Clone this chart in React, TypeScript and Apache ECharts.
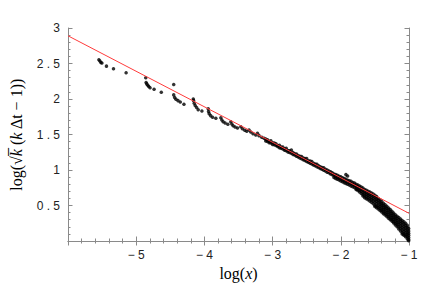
import React, { useEffect, useRef } from "react";
import * as echarts from "echarts";

// Red reference line endpoints (log x, log y)
const fitX = [-6, -1];
const fitY = [2.89, 0.39];

// Sparse early points (log x, log y)
const sparsePoints: [number, number][] = [
  [-5.547, 2.552], [-5.532, 2.534], [-5.518, 2.514], [-5.503, 2.506], [-5.436, 2.463], [-5.333, 2.425], [-5.148, 2.369],
  [-4.86, 2.298], [-4.855, 2.232], [-4.845, 2.213], [-4.83, 2.195], [-4.816, 2.175], [-4.797, 2.157], [-4.738, 2.138], [-4.632, 2.096],
  [-4.45, 2.203], [-4.45, 2.058], [-4.436, 2.02], [-4.417, 1.997], [-4.387, 1.977], [-4.354, 1.959], [-4.3, 1.927],
  [-4.163, 2.001], [-4.158, 1.977], [-4.149, 1.941], [-4.135, 1.907], [-4.114, 1.879], [-4.091, 1.85], [-4.037, 1.832],
  [-3.944, 1.861], [-3.939, 1.823], [-3.93, 1.794], [-3.909, 1.766], [-3.88, 1.743], [-3.832, 1.729],
  [-3.759, 1.737], [-3.744, 1.705], [-3.725, 1.681], [-3.696, 1.662], [-3.656, 1.644],
  [-3.613, 1.681], [-3.598, 1.648], [-3.579, 1.624], [-3.55, 1.606], [-3.515, 1.592],
  [-3.466, 1.61], [-3.442, 1.582], [-3.408, 1.559], [-3.379, 1.545],
  [-3.345, 1.563], [-3.32, 1.535], [-3.287, 1.511], [-3.247, 1.493],
  [-3.222, 1.517], [-3.199, 1.484], [-3.159, 1.46], [-3.126, 1.446],
];

// Dense band, middle part: [log x, log y values at that x]
const bandMid: [number, number[]][] = [
  [-3.1, [1.435, 1.41]], [-3.075, [1.425, 1.4]], [-3.05, [1.405, 1.385]], [-3.025, [1.41, 1.38]],
  [-3.0, [1.385, 1.36]], [-2.975, [1.38, 1.355]], [-2.95, [1.37, 1.345]], [-2.925, [1.345, 1.33]],
  [-2.9, [1.35, 1.315]], [-2.875, [1.325, 1.305]], [-2.85, [1.325, 1.295]], [-2.825, [1.3, 1.28]],
  [-2.8, [1.305, 1.27]], [-2.775, [1.275, 1.255]], [-2.75, [1.27, 1.245]], [-2.725, [1.28, 1.235]],
  [-2.7, [1.245, 1.22]], [-2.675, [1.23, 1.21]], [-2.65, [1.225, 1.195]], [-2.625, [1.205, 1.185]],
  [-2.6, [1.195, 1.17]], [-2.575, [1.19, 1.16]], [-2.55, [1.17, 1.145]], [-2.525, [1.16, 1.135]],
  [-2.5, [1.16, 1.12]], [-2.475, [1.13, 1.11]], [-2.45, [1.125, 1.095]], [-2.425, [1.12, 1.085]],
  [-2.4, [1.095, 1.07]], [-2.375, [1.085, 1.06]], [-2.35, [1.08, 1.045]], [-2.325, [1.06, 1.035]],
  [-2.3, [1.045, 1.02]], [-2.275, [1.035, 1.01]], [-2.25, [1.03, 0.995]], [-2.225, [1.01, 0.985]],
  [-2.2, [1.0, 0.97]], [-2.175, [0.985, 0.96]], [-2.15, [0.975, 0.945]], [-2.125, [0.96, 0.935]],
];

// Dense band, right part (widening and bending below the line)
const bandRight: [number, number[]][] = [
  [-2.1, [0.945, 0.92, 0.895]], [-2.075, [0.935, 0.905, 0.88]], [-2.05, [0.925, 0.895, 0.87]],
  [-2.025, [0.91, 0.885, 0.86]], [-2.0, [0.905, 0.875, 0.845]], [-1.975, [0.89, 0.86, 0.835]],
  [-1.95, [0.88, 0.85, 0.82]], [-1.925, [0.935, 0.87, 0.84, 0.81]], [-1.9, [0.915, 0.855, 0.83, 0.8]],
  [-1.875, [0.85, 0.82, 0.79]], [-1.85, [0.84, 0.81, 0.775]], [-1.825, [0.825, 0.795, 0.765]],
  [-1.8, [0.815, 0.785, 0.755]], [-1.775, [0.8, 0.77, 0.74, 0.725]], [-1.75, [0.79, 0.76, 0.73, 0.71]],
  [-1.725, [0.775, 0.745, 0.715, 0.69]], [-1.7, [0.76, 0.73, 0.7, 0.67]],
  [-1.675, [0.745, 0.715, 0.685, 0.655, 0.635]], [-1.65, [0.725, 0.695, 0.665, 0.635, 0.61]],
  [-1.625, [0.715, 0.685, 0.655, 0.625, 0.595]], [-1.6, [0.7, 0.67, 0.64, 0.61, 0.58]],
  [-1.575, [0.69, 0.66, 0.63, 0.6, 0.565]], [-1.55, [0.675, 0.645, 0.61, 0.58, 0.545]],
  [-1.525, [0.66, 0.63, 0.6, 0.565, 0.525]], [-1.5, [0.645, 0.615, 0.58, 0.545, 0.505, 0.485]],
  [-1.475, [0.625, 0.59, 0.56, 0.525, 0.49, 0.47]], [-1.45, [0.6, 0.57, 0.54, 0.505, 0.475, 0.45]],
  [-1.425, [0.58, 0.55, 0.52, 0.49, 0.455, 0.43]], [-1.4, [0.555, 0.525, 0.495, 0.465, 0.435, 0.41]],
  [-1.375, [0.53, 0.5, 0.47, 0.44, 0.41, 0.385]], [-1.35, [0.51, 0.48, 0.45, 0.42, 0.39, 0.365]],
  [-1.325, [0.49, 0.46, 0.43, 0.4, 0.37, 0.345]], [-1.3, [0.465, 0.435, 0.405, 0.375, 0.345, 0.32]],
  [-1.275, [0.445, 0.415, 0.385, 0.355, 0.325, 0.3]], [-1.25, [0.42, 0.39, 0.36, 0.33, 0.3, 0.28]],
  [-1.225, [0.395, 0.365, 0.335, 0.305, 0.275, 0.255]], [-1.2, [0.37, 0.34, 0.31, 0.28, 0.25, 0.225]],
  [-1.175, [0.35, 0.32, 0.29, 0.26, 0.23, 0.2]], [-1.15, [0.33, 0.3, 0.265, 0.235, 0.2, 0.17]],
  [-1.125, [0.31, 0.28, 0.245, 0.21, 0.175, 0.14]], [-1.1, [0.29, 0.26, 0.225, 0.19, 0.155, 0.12, 0.1]],
  [-1.075, [0.27, 0.24, 0.205, 0.17, 0.135, 0.1, 0.08]], [-1.05, [0.25, 0.22, 0.185, 0.15, 0.115, 0.085, 0.06]],
  [-1.025, [0.22, 0.19, 0.155, 0.12, 0.09, 0.06, 0.03]], [-1.005, [0.175, 0.14, 0.11, 0.08, 0.05, 0.02, 0.005]],
];

const xTickValues = [-5, -4, -3, -2, -1];
const yTickValues = [0.5, 1, 1.5, 2, 2.5, 3];

const flatten = (rows: [number, number[]][]) => {
  const out: [number, number][] = [];
  rows.forEach(([x, ys]) => ys.forEach((y) => out.push([x, y])));
  return out;
};

const frameColor = "#8a8a8a";
const labelFont = "Liberation Sans, Arial, sans-serif";
const titleFont = "Liberation Serif, Times New Roman, serif";

export default function App() {
  const ref = useRef<HTMLDivElement>(null);
  useEffect(() => {
    if (!ref.current) return;
    const chart = echarts.init(ref.current, undefined, { renderer: "svg" });
    const tickCommon = {
      axisLine: { show: true, lineStyle: { color: frameColor, width: 1 } },
      axisTick: { show: true, inside: true, length: 4.5, lineStyle: { color: frameColor } },
      minorTick: { show: true, splitNumber: 5, length: 2.5, lineStyle: { color: frameColor } },
      splitLine: { show: false },
    };
    const xLabel = (v: number) =>
      xTickValues.includes(v) ? (v < 0 ? "\u2212 " + Math.abs(v) : String(v)) : "";
    const yLabel = (v: number) =>
      yTickValues.includes(v) ? String(v).replace(".", " . ") : "";
    const allPoints = [...sparsePoints, ...flatten(bandMid), ...flatten(bandRight)];
    const richStyles = {
      n: { fontFamily: titleFont, fontSize: 16, color: "#000" },
      i: { fontFamily: titleFont, fontSize: 16, color: "#000", fontStyle: "italic" },
    };
    chart.setOption({
      animation: false,
      backgroundColor: "#ffffff",
      grid: { left: 66, top: 28, width: 343, height: 213, containLabel: false },
      xAxis: [
        {
          type: "value",
          min: -6,
          max: -1,
          interval: 1,
          ...tickCommon,
          axisLabel: { formatter: xLabel, color: "#222", fontFamily: labelFont, fontSize: 12, margin: 8 },
          name: "{n|log(}{i|x}{n|)}",
          nameLocation: "middle",
          nameGap: 19,
          nameTextStyle: {
            fontFamily: titleFont,
            fontSize: 16,
            color: "#000",
            rich: richStyles,
          },
        },
        {
          type: "value",
          position: "top",
          min: -6,
          max: -1,
          interval: 1,
          ...tickCommon,
          axisLabel: { show: false },
        },
      ],
      yAxis: [
        {
          type: "value",
          min: 0,
          max: 3,
          interval: 0.5,
          ...tickCommon,
          axisLabel: { formatter: yLabel, color: "#222", fontFamily: labelFont, fontSize: 12, margin: 8 },
          name: "{n|log(√}{i|k\u0305}{n| (}{i|k}{n| Δt − 1))}",
          nameLocation: "middle",
          nameGap: 44,
          nameRotate: 90,
          nameTextStyle: {
            fontFamily: titleFont,
            fontSize: 16,
            color: "#000",
            rich: richStyles,
          },
        },
        {
          type: "value",
          position: "right",
          min: 0,
          max: 3,
          interval: 0.5,
          ...tickCommon,
          axisLabel: { show: false },
        },
      ],
      series: [
        {
          type: "line",
          data: fitX.map((x, i) => [x, fitY[i]]),
          showSymbol: false,
          lineStyle: { color: "#ff3b3b", width: 1 },
          z: 3,
        },
        {
          type: "scatter",
          data: allPoints,
          symbol: "circle",
          symbolSize: 3.5,
          itemStyle: { color: "#000" },
          z: 2,
        },
      ],
    });
    return () => chart.dispose();
  }, []);
  return (
    <div
      ref={ref}
      style={{ position: "fixed", left: 0, top: 0, width: 422, height: 299, background: "#fff" }}
    />
  );
}
